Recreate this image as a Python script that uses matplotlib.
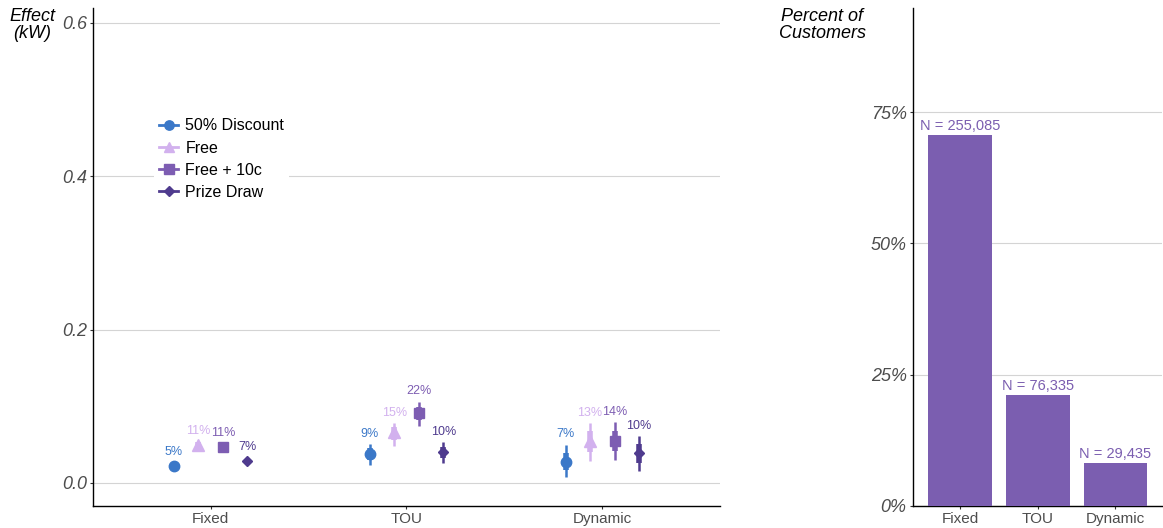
import numpy as np
import matplotlib.pyplot as plt
from matplotlib.lines import Line2D

plt.rcParams['font.family'] = ['Liberation Sans', 'DejaVu Sans']

tariffs = ['Fixed', 'TOU', 'Dynamic']
groups = ['50% Discount', 'Free', 'Free + 10c', 'Prize Draw']
colors = ['#3b78c8', '#d2b1ee', '#7d5db2', '#4f3b8e']
markers = ['o', '^', 's', 'D']
msizes = [7.5, 8.5, 7.5, 5.5]

# effect estimates (kW) per group, per tariff
effect = [
    [0.022, 0.038, 0.027],
    [0.050, 0.066, 0.055],
    [0.047, 0.091, 0.055],
    [0.029, 0.040, 0.039],
]
ci_lo = [
    [0.017, 0.023, 0.008],
    [0.045, 0.048, 0.029],
    [0.042, 0.074, 0.030],
    [0.025, 0.026, 0.016],
]
ci_hi = [
    [0.027, 0.051, 0.050],
    [0.055, 0.078, 0.078],
    [0.052, 0.106, 0.079],
    [0.033, 0.053, 0.061],
]
pct_labels = [
    ['5%', '9%', '7%'],
    ['11%', '15%', '13%'],
    ['11%', '22%', '14%'],
    ['7%', '10%', '10%'],
]

customers_n = [255085, 76335, 29435]
customers_pct = [0.707, 0.212, 0.082]

fig = plt.figure(figsize=(11.63, 5.28), dpi=100)
ax1 = fig.add_axes([0.080, 0.0417, 0.539, 0.943])
ax2 = fig.add_axes([0.785, 0.0417, 0.214, 0.943])

grid_c = '#d4d4d4'
tick_c = '#4d4d4d'

# --- left panel: effects
x = np.arange(1, 4)
offsets = [-0.1875, -0.0625, 0.0625, 0.1875]
for g in range(4):
    xs = x + offsets[g]
    for i in range(3):
        lo, hi, m = ci_lo[g][i], ci_hi[g][i], effect[g][i]
        ax1.plot([xs[i], xs[i]], [lo, hi], color=colors[g], lw=1.8,
                 solid_capstyle='butt', zorder=3)
        ax1.plot([xs[i], xs[i]], [m - (m - lo) * 0.55, m + (hi - m) * 0.55],
                 color=colors[g], lw=4, solid_capstyle='butt', zorder=3)
        ax1.annotate(pct_labels[g][i], (xs[i], hi), xytext=(0, 3),
                     textcoords='offset points', ha='center', va='bottom',
                     fontsize=9, color=colors[g])
    ax1.plot(xs, effect[g], linestyle='none', marker=markers[g],
             ms=msizes[g], color=colors[g], zorder=4)

ax1.set_xlim(0.4, 3.6)
ax1.set_ylim(-0.03, 0.619)
ax1.set_xticks(x)
ax1.set_xticklabels(tariffs)
ax1.set_yticks([0.0, 0.2, 0.4, 0.6])
ax1.set_yticklabels(['0.0', '0.2', '0.4', '0.6'], fontsize=13,
                    fontstyle='italic', color=tick_c)
ax1.grid(axis='y', color=grid_c, lw=0.8)
ax1.set_axisbelow(True)

handles = [Line2D([0], [0], color=colors[g], marker=markers[g],
                  ms=msizes[g] * 0.9, lw=2) for g in range(4)]
leg = ax1.legend(handles, groups, loc='upper left',
                 bbox_to_anchor=(0.085, 0.804), frameon=True, fontsize=11.5,
                 handlelength=1.2, handletextpad=0.45, labelspacing=0.45,
                 borderpad=0.3, framealpha=1)
leg.get_frame().set_edgecolor('white')
leg.get_frame().set_linewidth(0)

fig.text(0.028, 0.985, 'Effect\n(kW)', ha='center', va='top', fontsize=13,
         fontstyle='italic', linespacing=1.0)

# --- right panel: share of customers
bars = ax2.bar(x, customers_pct, width=0.82, color='#7b5eb0', zorder=3)
for b, n in zip(bars, customers_n):
    ax2.text(b.get_x() + b.get_width() / 2, b.get_height() + 0.004,
             'N = {:,}'.format(n), ha='center', va='bottom', fontsize=10.5,
             color='#7b5eb0')

ax2.set_xlim(0.39, 3.6)
ax2.set_ylim(0, 0.948)
ax2.set_xticks(x)
ax2.set_xticklabels(tariffs)
ax2.set_yticks([0, 0.25, 0.5, 0.75])
ax2.set_yticklabels(['0%', '25%', '50%', '75%'], fontsize=13,
                    fontstyle='italic', color=tick_c)
ax2.grid(axis='y', color=grid_c, lw=0.8)
ax2.set_axisbelow(True)

fig.text(0.707, 0.985, 'Percent of\nCustomers', ha='center', va='top',
         fontsize=13, fontstyle='italic', linespacing=1.0)

for ax in (ax1, ax2):
    ax.spines['top'].set_visible(False)
    ax.spines['right'].set_visible(False)
    ax.spines['left'].set_linewidth(1.0)
    ax.spines['bottom'].set_linewidth(1.0)
    ax.tick_params(axis='x', labelsize=11, labelcolor=tick_c, length=2.5,
                   pad=1.5, color='#333333')
    ax.tick_params(axis='y', length=2.5, pad=2, color='#333333')

fig.savefig('out.png', dpi=100)
